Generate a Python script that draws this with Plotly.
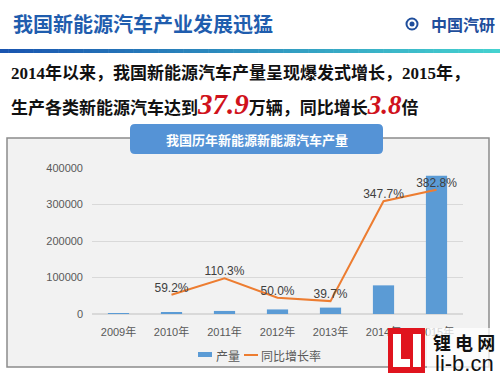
import plotly.graph_objects as go

# ---- data ----
years = ["2009年", "2010年", "2011年", "2012年", "2013年", "2014年", "2015年"]
production = [2500, 3979, 8368, 12552, 17533, 78499, 379000]
growth_years = ["2010年", "2011年", "2012年", "2013年", "2014年", "2015年"]
growth_rate = [59.2, 110.3, 50.0, 39.7, 347.7, 382.8]
growth_labels = ["59.2%", "110.3%", "50.0%", "39.7%", "347.7%", "382.8%"]
y_ticks = [0, 100000, 200000, 300000, 400000]

W, H = 500, 375
L, R, T, B = 92, 463, 168, 314


def px(x):
    return (x - L) / (R - L)


def py(y):
    return (B - y) / (B - T)


CJK = "Noto Sans CJK SC"
SANS = "Liberation Sans, Noto Sans CJK SC"
SERIF = "Liberation Serif, Noto Sans CJK SC"

fig = go.Figure()
fig.add_trace(go.Bar(
    x=years, y=production, name="产量",
    marker=dict(color="#5B9BD5", line=dict(width=0)),
    showlegend=False,
))
fig.add_trace(go.Scatter(
    x=growth_years, y=growth_rate, name="同比增长率", yaxis="y2",
    mode="lines+text", text=growth_labels, textposition="top center",
    textfont=dict(size=12, color="#404040", family=SANS),
    line=dict(color="#ED7D31", width=2),
    showlegend=False, cliponaxis=False,
))

shapes = []
ann = []

# chart panel
shapes.append(dict(type="rect", xref="paper", yref="paper", layer="below",
                   x0=px(7), x1=px(489), y0=py(367), y1=py(138),
                   fillcolor="#F2F2F2", line=dict(color="#8C8C8C", width=1.5)))

# header gradient line
n = 60
c0 = (0x1A, 0x55, 0xB0)
c1 = (0x45, 0xD2, 0xD0)
for i in range(n):
    t = i / (n - 1)
    col = "rgb(%d,%d,%d)" % tuple(int(c0[k] + (c1[k] - c0[k]) * t) for k in range(3))
    shapes.append(dict(type="rect", xref="paper", yref="paper",
                       x0=px(W * i / n), x1=px(W * (i + 1) / n + 0.5),
                       y0=py(53), y1=py(49), fillcolor=col, line=dict(width=0)))

# logo circle
for r, col in [(6.5, "#1F4E9C"), (4.5, "white"), (2.5, "#1F4E9C")]:
    shapes.append(dict(type="circle", xref="paper", yref="paper",
                       x0=px(412 - r), x1=px(412 + r), y0=py(24 + r), y1=py(24 - r),
                       fillcolor=col, line=dict(width=0)))

# rounded title box
x0, x1, y0, y1, rr = 130, 383, 124, 154, 5
path = (f"M {px(x0+rr)},{py(y0)} L {px(x1-rr)},{py(y0)} Q {px(x1)},{py(y0)} {px(x1)},{py(y0+rr)} "
        f"L {px(x1)},{py(y1-rr)} Q {px(x1)},{py(y1)} {px(x1-rr)},{py(y1)} "
        f"L {px(x0+rr)},{py(y1)} Q {px(x0)},{py(y1)} {px(x0)},{py(y1-rr)} "
        f"L {px(x0)},{py(y0+rr)} Q {px(x0)},{py(y0)} {px(x0+rr)},{py(y0)} Z")
shapes.append(dict(type="path", xref="paper", yref="paper", path=path,
                   fillcolor="#5593D6", line=dict(width=0), layer="above"))

# manual legend
shapes.append(dict(type="rect", xref="paper", yref="paper",
                   x0=px(198), x1=px(212), y0=py(357), y1=py(352),
                   fillcolor="#5B9BD5", line=dict(width=0)))
shapes.append(dict(type="line", xref="paper", yref="paper",
                   x0=px(244), x1=px(258), y0=py(355), y1=py(355),
                   line=dict(color="#ED7D31", width=2)))

# watermark
shapes.append(dict(type="rect", xref="paper", yref="paper", layer="above",
                   x0=px(427), x1=px(500), y0=py(375), y1=py(328),
                   fillcolor="rgba(255,255,255,0.75)", line=dict(width=0)))
shapes.append(dict(type="rect", xref="paper", yref="paper", layer="above",
                   x0=px(388), x1=px(425), y0=py(373), y1=py(328),
                   fillcolor="#E0141E", line=dict(width=0)))
for (a, b, c, d) in [(393, 401, 334, 367), (393, 410, 359, 367), (413, 421, 334, 367)]:
    shapes.append(dict(type="rect", xref="paper", yref="paper", layer="above",
                       x0=px(a), x1=px(b), y0=py(d), y1=py(c),
                       fillcolor="white", line=dict(width=0)))


def add_text(x, y, text, size, color, family=CJK, xanchor="left"):
    ann.append(dict(x=px(x), y=py(y), xref="paper", yref="paper", text=text,
                    showarrow=False, xanchor=xanchor, yanchor="middle",
                    font=dict(size=size, color=color, family=family)))


add_text(11, 23, "<b>我国新能源汽车产业发展迅猛</b>", 20, "#1F5DAE")
add_text(497, 24, "<b>中国汽研</b>", 16, "#1F4E9C", CJK, "right")
add_text(9, 73, "<b>2014年以来，我国新能源汽车产量呈现爆发式增长，2015年，</b>", 17, "#111111", SERIF)
line2 = ("<b>生产各类新能源汽车达到</b>"
         "<span style='font-size:29px;color:#D0121B;font-family:Liberation Serif'><b><i>37.9</i></b></span>"
         "<b>万辆，同比增长</b>"
         "<span style='font-size:27px;color:#D0121B;font-family:Liberation Serif'><b><i>3.8</i></b></span>"
         "<b>倍</b>")
add_text(9, 104, line2, 17, "#111111", SERIF)
add_text(257, 139, "<b>我国历年新能源新能源汽车产量</b>", 13, "white", CJK, "center")
add_text(214, 355, "产量", 12, "#595959", CJK)
add_text(259, 355, "同比增长率", 12, "#595959", CJK)
add_text(464, 342, "<b>锂 电 网</b>", 18, "#111111", CJK, "center")
add_text(464, 363, "li-b.cn", 22, "#111111", "Liberation Sans", "center")

fig.update_layout(
    width=W, height=H,
    margin=dict(l=L, r=W - R, t=T, b=H - B, pad=0),
    paper_bgcolor="white", plot_bgcolor="rgba(0,0,0,0)",
    bargap=0.6, showlegend=False,
    shapes=shapes, annotations=ann,
    xaxis=dict(type="category", showline=False, ticks="", showgrid=False,
               tickfont=dict(size=11, color="#595959", family=SANS),
               ticklabelstandoff=10),
    yaxis=dict(range=[0, 400000], tickvals=y_ticks, tickformat="d",
               showgrid=True, gridcolor="#D9D9D9", gridwidth=1,
               zeroline=True, zerolinecolor="#D9D9D9", showline=False, ticks="",
               tickfont=dict(size=11, color="#595959", family=SANS),
               ticklabelstandoff=8),
    yaxis2=dict(range=[0, 450], overlaying="y", visible=False),
)

fig.write_html("out.html", config={"displayModeBar": False},
               post_script="document.body.style.margin='0';document.body.style.padding='0';")
